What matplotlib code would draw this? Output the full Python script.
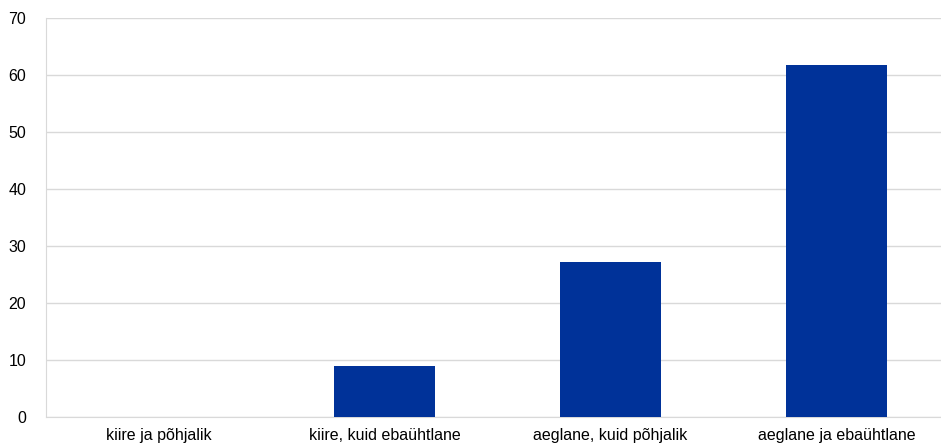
import matplotlib.pyplot as plt
import numpy as np

categories = ["kiire ja põhjalik", "kiire, kuid ebaühtlane",
              "aeglane, kuid põhjalik", "aeglane ja ebaühtlane"]
values = [0, 9.0, 27.2, 61.8]
yticks = [0, 10, 20, 30, 40, 50, 60, 70]

plt.rcParams['font.family'] = ['Liberation Sans', 'DejaVu Sans']

W, H = 941, 444
fig = plt.figure(figsize=(W / 100, H / 100), dpi=100)
ax = fig.add_axes([45.5 / W, (H - 417.3) / H, 904 / W, (417.3 - 18.3) / H])

x = np.arange(len(categories))
ax.bar(x, values, width=0.45, color='#003299', zorder=3)

ax.set_xlim(-0.5, len(categories) - 0.5)
ax.set_ylim(0, 70)
ax.set_yticks(yticks)
ax.set_xticks(x)
ax.set_xticklabels(categories)
ax.grid(axis='y', color='#d9d9d9', linewidth=1, zorder=0)
ax.tick_params(axis='both', length=0, labelsize=11.5, colors='#000000')
ax.tick_params(axis='x', pad=8)
ax.tick_params(axis='y', pad=14)
for s in ['top', 'right']:
    ax.spines[s].set_visible(False)
ax.spines['left'].set_color('#d9d9d9')
ax.spines['bottom'].set_color('#d9d9d9')

fig.savefig('out.png', dpi=100)
